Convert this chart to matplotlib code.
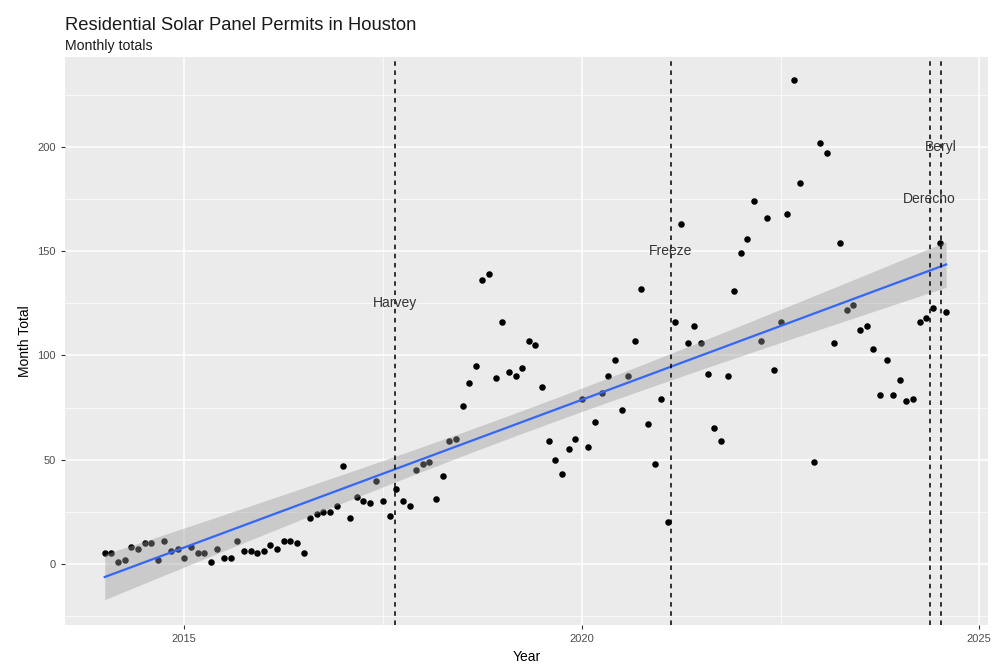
import numpy as np
import matplotlib
matplotlib.use("Agg")
import matplotlib.pyplot as plt
from matplotlib.ticker import MultipleLocator

# ---- data ----
start_year = 2014
monthly_totals = [
    5, 5, 1, 2, 8, 7, 10, 10, 2, 11, 6, 7,            # 2014
    3, 8, 5, 5, 1, 7, 3, 3, 11, 6, 6, 5,              # 2015
    6, 9, 7, 11, 11, 10, 5, 22, 24, 25, 25, 28,       # 2016
    47, 22, 32, 30, 29, 40, 30, 23, 36, 30, 28, 45,   # 2017
    48, 49, 31, 42, 59, 60, 76, 87, 95, 136, 139, 89, # 2018
    116, 92, 90, 94, 107, 105, 85, 59, 50, 43, 55, 60,# 2019
    79, 56, 68, 82, 90, 98, 74, 90, 107, 132, 67, 48, # 2020
    79, 20, 116, 163, 106, 114, 106, 91, 65, 59, 90, 131,  # 2021
    149, 156, 174, 107, 166, 93, 116, 168, 232, 183, np.nan, 49,  # 2022
    202, 197, 106, 154, 122, 124, 112, 114, 103, 81, 98, 81,  # 2023
    88, 78, 79, 116, 118, 123, 154, 121,             # 2024
]
event_names = ["Harvey", "Freeze", "Derecho", "Beryl"]
event_dates = [(2017, 8, 25), (2021, 2, 15), (2024, 5, 16), (2024, 7, 8)]
event_label_y = [125, 150, 175, 200]

y_vals = np.array(monthly_totals, dtype=float)
x_vals = start_year + np.arange(len(y_vals)) / 12.0

def frac_year(y, m, d):
    return y + (m - 1) / 12.0 + (d - 1) / 30.0 / 12.0

event_x = [frac_year(*d) for d in event_dates]

# ---- linear fit with 95% CI ----
mask = ~np.isnan(y_vals)
xs, ys = x_vals[mask], y_vals[mask]
n = len(xs)
xm = xs.mean()
b1 = np.sum((xs - xm) * (ys - ys.mean())) / np.sum((xs - xm) ** 2)
b0 = ys.mean() - b1 * xm
resid = ys - (b0 + b1 * xs)
s = np.sqrt(np.sum(resid ** 2) / (n - 2))
tq = 1.979
xf = np.linspace(xs.min(), xs.max(), 200)
yf = b0 + b1 * xf
se = s * np.sqrt(1.0 / n + (xf - xm) ** 2 / np.sum((xs - xm) ** 2))

# ---- plot ----
plt.rcParams['font.family'] = ['Liberation Sans', 'DejaVu Sans']
fig = plt.figure(figsize=(10, 6.71), dpi=100)
ax = fig.add_axes([0.065, 0.0686, 0.923, 0.8464])
ax.set_facecolor('#EBEBEB')

ax.set_xlim(2013.50, 2025.11)
ax.set_ylim(-29.3, 243.2)
ax.xaxis.set_major_locator(MultipleLocator(5))
ax.xaxis.set_minor_locator(MultipleLocator(2.5))
ax.yaxis.set_major_locator(MultipleLocator(50))
ax.yaxis.set_minor_locator(MultipleLocator(25))
ax.grid(which='major', color='white', linewidth=1.1, zorder=0)
ax.grid(which='minor', color='white', linewidth=0.5, zorder=0)
ax.set_axisbelow(True)
for sp in ax.spines.values():
    sp.set_visible(False)
ax.tick_params(which='major', length=3, color='#333333', labelsize=8, labelcolor='#4D4D4D', width=0.8)
ax.tick_params(which='minor', length=0)

ax.scatter(xs, ys, s=22, color='black', zorder=2, linewidths=0)
ax.fill_between(xf, yf - tq * se, yf + tq * se, color='#999999', alpha=0.4, linewidth=0, zorder=3)
ax.plot(xf, yf, color='#3366FF', linewidth=1.6, zorder=4)

for name, ex, ly in zip(event_names, event_x, event_label_y):
    ax.axvline(ex, color='black', linestyle=(0, (3, 3)), linewidth=1.1, zorder=5)
    ax.text(ex, ly, name, ha='center', va='center', fontsize=10, color='#333333', zorder=6)

ax.set_xlabel('Year', fontsize=10, color='black', labelpad=4)
ax.set_ylabel('Month Total', fontsize=10, color='black', labelpad=4)

fig.text(0.065, 0.962, 'Residential Solar Panel Permits in Houston', fontsize=13.2,
         color='#1A1A1A', ha='left', va='center')
fig.text(0.065, 0.932, 'Monthly totals', fontsize=10.2, color='#1A1A1A', ha='left', va='center')

fig.savefig('out.png', dpi=100)
